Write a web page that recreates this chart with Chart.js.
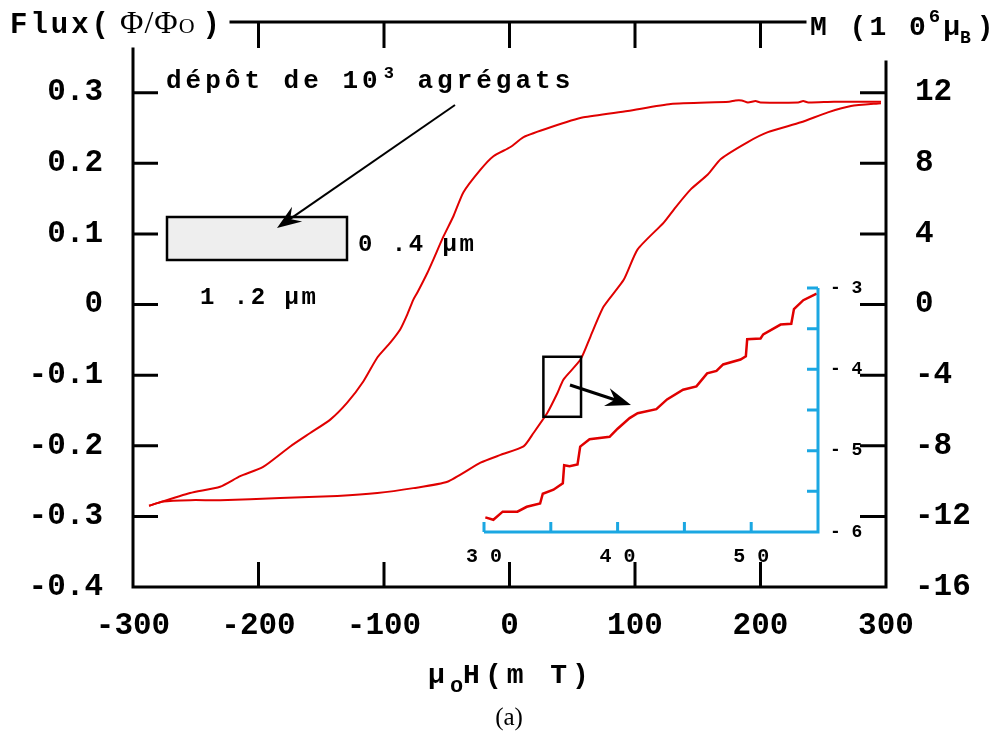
<!DOCTYPE html>
<html>
<head>
<meta charset="utf-8">
<script src="https://cdn.jsdelivr.net/npm/chart.js@4"></script>
<style>
  body { margin: 0; background: #fff; }
  #wrap { position: relative; width: 1006px; height: 733px; }
  #main { position: absolute; left: 0; top: 0; }
  #inset { position: absolute; left: 440px; top: 270px; }
</style>
</head>
<body>
<div id="wrap">
  <canvas id="main" width="1006" height="733"></canvas>
  <canvas id="inset" width="450" height="310"></canvas>
</div>
<script>
  // descending branch (from +300 mT back to -300 mT)
  const downX = [296, 258.5, 238, 234, 230, 200, 196, 190, 185, 180, 175, 128.5, 94.2, 59.0, 32.7, 11.2, 0.8, -12.8, -23.1, -36.7, -44.7, -52.7, -60.6, -65.4, -73.4, -76.6, -81.4, -87.0, -95.0, -105.3, -116.5, -129.3, -142.8, -158.8, -174.7, -196.3, -214.6, -230.6, -254.5, -287.2];
  const downY = [0.287, 0.287, 0.286, 0.288, 0.286, 0.286, 0.288, 0.286, 0.289, 0.289, 0.287, 0.284, 0.274, 0.265, 0.251, 0.237, 0.223, 0.210, 0.191, 0.159, 0.125, 0.096, 0.064, 0.045, 0.017, 0.007, -0.014, -0.035, -0.054, -0.075, -0.109, -0.139, -0.163, -0.182, -0.201, -0.230, -0.243, -0.258, -0.267, -0.285];
  // ascending branch (from -300 mT up to +300 mT)
  const upX = [-287.2, -276.1, -254.5, -230.6, -182.7, -137.2, -105.3, -76.6, -49.5, -23.1, -7.2, 11.2, 19.1, 30.3, 38.3, 43.1, 56.6, 64.6, 75.0, 91.0, 102.1, 122.9, 132.5, 144.4, 158.0, 168.4, 189.9, 205.9, 232.2, 253.7, 272.1, 296.0];
  const upY = [-0.285, -0.279, -0.277, -0.277, -0.274, -0.271, -0.267, -0.260, -0.251, -0.224, -0.213, -0.201, -0.182, -0.153, -0.125, -0.106, -0.078, -0.045, -0.003, 0.035, 0.078, 0.116, 0.138, 0.163, 0.184, 0.206, 0.230, 0.244, 0.258, 0.272, 0.281, 0.285];

  // zoomed part shown in the inset
  const insetX = [30.1, 30.7, 31.4, 32.5, 33.2, 34.2, 34.4, 35.2, 35.9, 36.0, 36.4, 37.0, 37.2, 37.9, 39.4, 40.0, 40.9, 41.5, 42.9, 43.7, 44.9, 45.9, 46.7, 47.4, 47.9, 49.2, 49.6, 49.7, 50.7, 50.9, 52.2, 53.0, 53.2, 53.9, 54.9];
  const insetY = [-5.82, -5.85, -5.75, -5.75, -5.69, -5.65, -5.53, -5.48, -5.40, -5.18, -5.19, -5.17, -4.95, -4.86, -4.83, -4.73, -4.60, -4.54, -4.49, -4.37, -4.25, -4.21, -4.05, -4.02, -3.94, -3.88, -3.84, -3.63, -3.62, -3.57, -3.45, -3.44, -3.26, -3.15, -3.07];

  // tick setup
  const fieldTicks = [-300, -200, -100, 0, 100, 200, 300];
  const fluxTicks = [-0.4, -0.3, -0.2, -0.1, 0, 0.1, 0.2, 0.3];
  const momentTicks = [-16, -12, -8, -4, 0, 4, 8, 12];
  const insetXLabels = [30, 40, 50];

  // region of the loop that is blown up in the inset
  const zoomBox = { x0: 27, x1: 57, y0: -0.159, y1: -0.074 };

  const MONO = '"Liberation Mono", "DejaVu Sans Mono", monospace';
  const SERIF = '"Liberation Serif", "Times New Roman", serif';
  const RED = '#e00000';
  const BLUE = '#1ba7e2';

  const pts = (xs, ys) => xs.map((x, i) => ({ x: x, y: ys[i] }));

  function drawRich(ctx, x, y, parts, align) {
    let w = 0;
    parts.forEach(p => {
      ctx.font = p.f;
      ctx.letterSpacing = (p.ls || 0) + 'px';
      p.w = ctx.measureText(p.t).width;
      w += p.w + (p.gap || 0);
    });
    if (align === 'center') x -= w / 2;
    parts.forEach(p => {
      ctx.font = p.f;
      ctx.letterSpacing = (p.ls || 0) + 'px';
      ctx.fillText(p.t, x, y + (p.dy || 0));
      x += p.w + (p.gap || 0);
    });
    ctx.letterSpacing = '0px';
  }

  function arrow(ctx, x0, y0, x1, y1, lw, head, back) {
    const a = Math.atan2(y1 - y0, x1 - x0);
    ctx.lineWidth = lw;
    ctx.beginPath();
    ctx.moveTo(x0, y0);
    ctx.lineTo(x1 - Math.cos(a) * head * 0.6, y1 - Math.sin(a) * head * 0.6);
    ctx.stroke();
    ctx.beginPath();
    ctx.moveTo(x1, y1);
    ctx.lineTo(x1 - head * Math.cos(a - 0.35), y1 - head * Math.sin(a - 0.35));
    ctx.lineTo(x1 - back * Math.cos(a), y1 - back * Math.sin(a));
    ctx.lineTo(x1 - head * Math.cos(a + 0.35), y1 - head * Math.sin(a + 0.35));
    ctx.closePath();
    ctx.fill();
  }

  const frame = {
    id: 'frame',
    afterDraw(chart) {
      const { ctx, chartArea: a, scales } = chart;
      const x = scales.x, y = scales.y, y2 = scales.y2;
      ctx.save();
      ctx.strokeStyle = '#000';
      ctx.fillStyle = '#000';
      ctx.lineWidth = 3;
      ctx.lineCap = 'square';
      ctx.beginPath();
      ctx.moveTo(a.left, 49); ctx.lineTo(a.left, a.bottom);
      ctx.lineTo(a.right, a.bottom); ctx.lineTo(a.right, 62);
      ctx.moveTo(231, a.top); ctx.lineTo(805, a.top);
      ctx.stroke();
      ctx.lineCap = 'butt';
      ctx.beginPath();
      fieldTicks.slice(1, -1).forEach(v => {
        const px = x.getPixelForValue(v);
        ctx.moveTo(px, a.top); ctx.lineTo(px, a.top + 26);
        ctx.moveTo(px, a.bottom); ctx.lineTo(px, a.bottom - 25);
      });
      fluxTicks.slice(1).forEach(v => {
        const py = y.getPixelForValue(v);
        ctx.moveTo(a.left, py); ctx.lineTo(a.left + 25, py);
      });
      momentTicks.slice(1).forEach(v => {
        const py = y2.getPixelForValue(v);
        ctx.moveTo(a.right, py); ctx.lineTo(a.right - 26, py);
      });
      ctx.stroke();

      // axis titles
      drawRich(ctx, 10, 33, [
        { t: 'Flux(', f: 'bold 29px ' + MONO, ls: 3, gap: 8 },
        { t: 'Φ/Φ', f: '32px ' + SERIF, ls: 1 },
        { t: 'O', f: '22px ' + SERIF, gap: 8 },
        { t: ')', f: 'bold 29px ' + MONO }
      ]);
      drawRich(ctx, 810, 35, [
        { t: 'M (1 0', f: 'bold 28px ' + MONO, ls: 3 },
        { t: '6', f: 'bold 19px ' + MONO, dy: -13, gap: 3 },
        { t: 'μ', f: 'bold 28px ' + MONO },
        { t: 'B', f: 'bold 18px ' + MONO, dy: 8, gap: 6 },
        { t: ')', f: 'bold 28px ' + MONO }
      ]);
      drawRich(ctx, 511, 683, [
        { t: 'μ', f: 'bold 28px ' + MONO, ls: 5 },
        { t: 'o', f: 'bold 22px ' + MONO, dy: 9 },
        { t: 'H(m T)', f: 'bold 28px ' + MONO, ls: 5 }
      ], 'center');
      ctx.textAlign = 'center';
      ctx.font = '25px ' + SERIF;
      ctx.fillText('(a)', 509, 725);
      ctx.textAlign = 'left';

      // sample sketch
      drawRich(ctx, 166, 88, [
        { t: 'dépôt de 10', f: 'bold 26px ' + MONO, ls: 4, gap: 2 },
        { t: '3', f: 'bold 17px ' + MONO, dy: -10, gap: 4 },
        { t: ' agrégats', f: 'bold 26px ' + MONO, ls: 4 }
      ]);
      ctx.fillStyle = '#eeeeee';
      ctx.fillRect(167, 217, 180, 43);
      ctx.lineWidth = 2.5;
      ctx.strokeRect(167, 217, 180, 43);
      ctx.fillStyle = '#000';
      drawRich(ctx, 358, 251, [{ t: '0 .4 µm', f: 'bold 24px ' + MONO, ls: 2.5 }]);
      drawRich(ctx, 200, 304, [{ t: '1 .2 µm', f: 'bold 24px ' + MONO, ls: 2.5 }]);
      arrow(ctx, 455, 105, 277, 228, 2, 26, 16);

      // box on the loop + arrow to the inset
      const bx0 = x.getPixelForValue(zoomBox.x0), bx1 = x.getPixelForValue(zoomBox.x1);
      const by0 = y.getPixelForValue(zoomBox.y1), by1 = y.getPixelForValue(zoomBox.y0);
      ctx.lineWidth = 2.5;
      ctx.strokeRect(bx0, by0, bx1 - bx0, by1 - by0);
      arrow(ctx, 570, 385, 631, 405, 3, 27, 17);
      ctx.restore();
    }
  };

  const insetFrame = {
    id: 'insetFrame',
    afterDraw(chart) {
      const { ctx, chartArea: a, scales } = chart;
      ctx.save();
      ctx.strokeStyle = BLUE;
      ctx.lineWidth = 3;
      ctx.beginPath();
      ctx.moveTo(a.left, a.bottom); ctx.lineTo(a.right, a.bottom); ctx.lineTo(a.right, a.top);
      scales.x.ticks.forEach(t => {
        const px = scales.x.getPixelForValue(t.value);
        ctx.moveTo(px, a.bottom); ctx.lineTo(px, a.bottom - 10);
      });
      scales.y.ticks.forEach(t => {
        const py = scales.y.getPixelForValue(t.value);
        ctx.moveTo(a.right, py); ctx.lineTo(a.right - 11, py);
      });
      ctx.stroke();
      ctx.restore();
    }
  };

  const tickFont = { family: MONO, size: 31, weight: 'bold' };
  const noGrid = { display: false, drawTicks: false };

  function fixX(h) {
    return s => { s.height = h; s.paddingLeft = 0; s.paddingRight = 0; };
  }
  function fixY(w) {
    return s => { s.width = w; s.paddingTop = 0; s.paddingBottom = 0; };
  }

  new Chart(document.getElementById('main'), {
    type: 'scatter',
    data: {
      datasets: [
        { data: pts(downX, downY), showLine: true, borderColor: RED, borderWidth: 2, pointRadius: 0, tension: 0.2, yAxisID: 'y' },
        { data: pts(upX, upY), showLine: true, borderColor: RED, borderWidth: 2, pointRadius: 0, tension: 0.2, yAxisID: 'y' }
      ]
    },
    options: {
      responsive: false,
      animation: false,
      layout: { padding: { top: 22 } },
      plugins: { legend: { display: false }, tooltip: { enabled: false } },
      scales: {
        x: {
          type: 'linear', position: 'bottom', min: -300, max: 300,
          grid: noGrid, border: { display: false },
          ticks: { stepSize: 100, padding: 21, color: '#000', font: tickFont },
          afterFit: fixX(146)
        },
        y: {
          type: 'linear', position: 'left', min: -0.4, max: 0.4,
          grid: noGrid, border: { display: false },
          ticks: {
            stepSize: 0.1, padding: 30, color: '#000', font: tickFont,
            callback: v => {
              const r = Math.round(v * 10) / 10;
              if (r > 0.35) return '';
              return r === 0 ? '0' : r.toFixed(1);
            }
          },
          afterFit: fixY(133)
        },
        y2: {
          type: 'linear', position: 'right', min: -16, max: 16,
          grid: noGrid, border: { display: false },
          ticks: {
            stepSize: 4, padding: 29, color: '#000', font: tickFont,
            callback: v => (v > 14 ? '' : String(v))
          },
          afterFit: fixY(120)
        }
      }
    },
    plugins: [frame]
  });

  new Chart(document.getElementById('inset'), {
    type: 'scatter',
    data: {
      datasets: [
        { data: pts(insetX, insetY), showLine: true, borderColor: RED, borderWidth: 2.5, pointRadius: 0 }
      ]
    },
    options: {
      responsive: false,
      animation: false,
      layout: { padding: { top: 18, left: 44 } },
      plugins: { legend: { display: false }, tooltip: { enabled: false } },
      scales: {
        x: {
          type: 'linear', position: 'bottom', min: 30, max: 55,
          grid: noGrid, border: { display: false },
          ticks: {
            stepSize: 5, padding: 13, color: '#000', font: { family: MONO, size: 20, weight: 'bold' },
            callback: v => (insetXLabels.includes(v) ? String(v).split('').join(' ') : '')
          },
          afterFit: fixX(48)
        },
        y: {
          type: 'linear', position: 'right', min: -6, max: -3,
          grid: noGrid, border: { display: false },
          ticks: {
            stepSize: 0.5, padding: 12, color: '#000', font: { family: MONO, size: 18, weight: 'bold' },
            callback: v => (Number.isInteger(v) ? '- ' + Math.abs(v) : '')
          },
          afterFit: fixY(72)
        }
      }
    },
    plugins: [insetFrame]
  });
</script>
</body>
</html>
